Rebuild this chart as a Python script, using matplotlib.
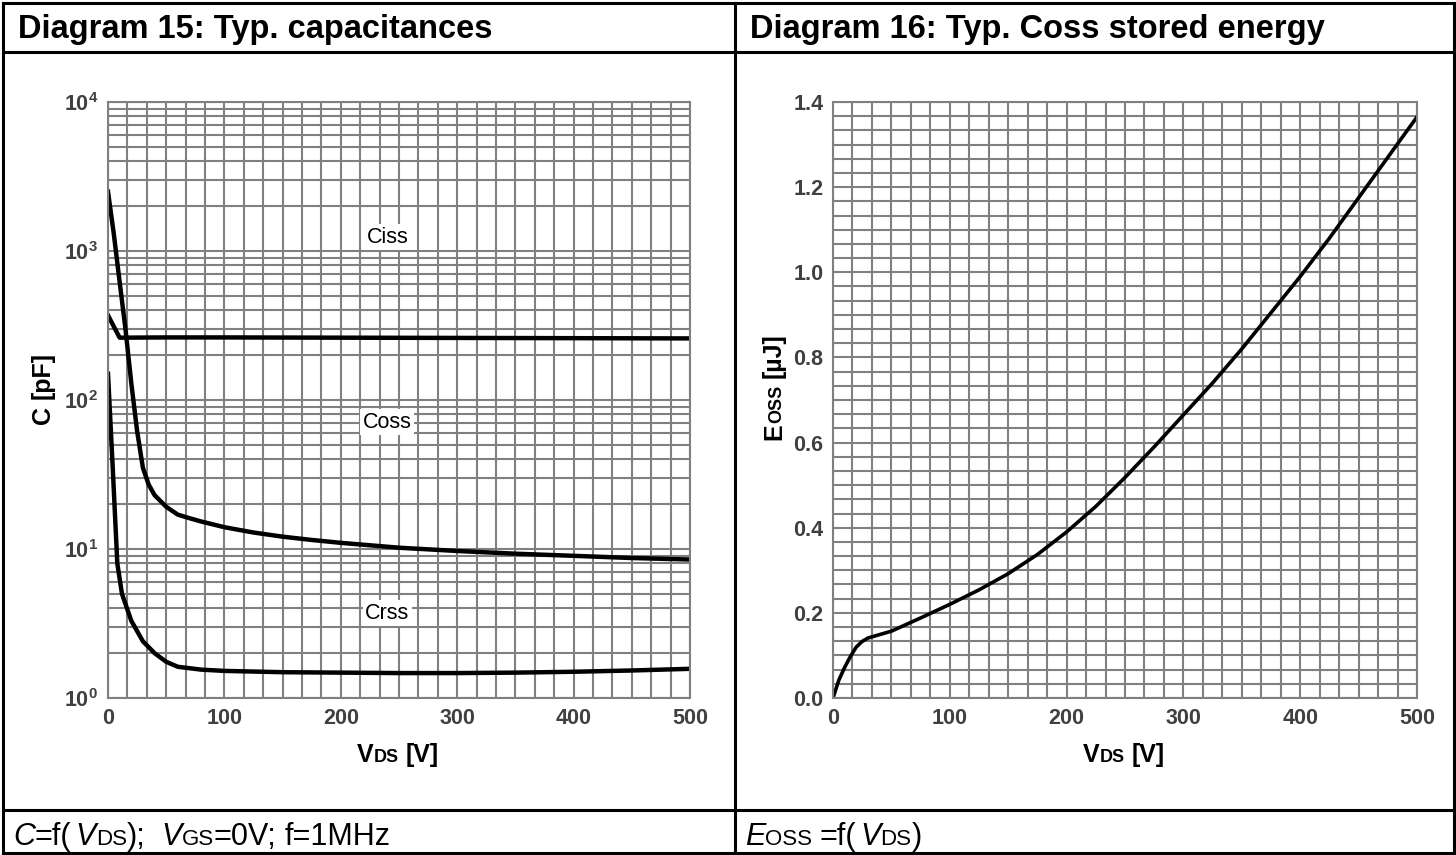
import numpy as np
import matplotlib
matplotlib.use("Agg")
import matplotlib.pyplot as plt
from matplotlib.ticker import MultipleLocator, LogLocator, NullFormatter
from matplotlib.lines import Line2D
from matplotlib.text import Annotation

# === 数据 ===
vds_coss = [0, 5, 10, 15, 20, 25, 30, 35, 40, 50, 60, 70, 80, 100, 125, 150, 175, 200, 250, 300, 350, 400, 450, 500]
coss = [2500, 1300, 620, 300, 130, 62, 35, 27, 23, 19.2, 17, 16.1, 15.3, 14, 12.9, 12.1, 11.5, 11.0, 10.2, 9.7, 9.3, 9.0, 8.7, 8.5]

vds_ciss = [0, 10, 50, 100, 200, 300, 400, 500]
ciss = [370, 262, 263, 263, 262, 261, 260, 259]

vds_crss = [0, 4, 8, 12, 20, 30, 40, 50, 60, 80, 100, 150, 200, 250, 300, 350, 400, 450, 500]
crss = [150, 36, 8, 5, 3.3, 2.4, 2.0, 1.75, 1.62, 1.55, 1.52, 1.49, 1.48, 1.47, 1.47, 1.48, 1.5, 1.53, 1.57]

vds_eoss = [0, 5, 10, 15, 20, 25, 30, 40, 50, 75, 100, 125, 150, 175, 200, 225, 250, 275, 300,
            325, 350, 375, 400, 425, 450, 475, 500]
eoss = [0, 0.042, 0.072, 0.098, 0.12, 0.133, 0.141, 0.149, 0.157, 0.188, 0.22, 0.254, 0.292, 0.337,
        0.39, 0.45, 0.518, 0.59, 0.665, 0.74, 0.82, 0.905, 0.99, 1.08, 1.175, 1.27, 1.365]

x_ticks = [0, 100, 200, 300, 400, 500]
c_ticks = [1, 10, 100, 1000, 10000]
c_tick_labels = [r'$\mathbf{10^{0}}$', r'$\mathbf{10^{1}}$', r'$\mathbf{10^{2}}$',
                 r'$\mathbf{10^{3}}$', r'$\mathbf{10^{4}}$']
e_ticks = [0.0, 0.2, 0.4, 0.6, 0.8, 1.0, 1.2, 1.4]

# === 样式 ===
FONT = 'Liberation Sans'
plt.rcParams['font.family'] = [FONT, 'DejaVu Sans']
plt.rcParams['mathtext.fontset'] = 'custom'
plt.rcParams['mathtext.rm'] = FONT
plt.rcParams['mathtext.bf'] = FONT + ':bold'
plt.rcParams['mathtext.it'] = FONT + ':italic'

GRID = '#808080'
TICK = '#404040'
W, H = 1456, 855


def fx(px):
    return px / W


def fy(py):
    return 1 - py / H


def rich_text(fig, x, y, pieces, rotation=False, color='black'):
    """把多段文字按基线拼接起来 (下标效果)"""
    prev = None
    for p in pieces:
        s, size, weight, style = p[:4]
        gap = p[4] if len(p) > 4 else 0
        kw = dict(fontsize=size, fontweight=weight, fontstyle=style, color=color,
                  family=FONT, ha='left', va='baseline')
        if rotation:
            kw.update(rotation=90, rotation_mode='anchor')
        if prev is None:
            t = fig.text(x, y, s, **kw)
        else:
            if rotation:
                t = Annotation(s, xy=(x, 1), xycoords=('figure fraction', prev),
                               xytext=(0, gap), textcoords='offset points', **kw)
            else:
                t = Annotation(s, xy=(1, y), xycoords=(prev, 'figure fraction'),
                               xytext=(gap, 0), textcoords='offset points', **kw)
            fig.add_artist(t)
        prev = t


def style_axes(ax):
    ax.set_axisbelow(True)
    ax.grid(True, which='both', color=GRID, linewidth=1.5)
    for sp in ax.spines.values():
        sp.set_color(GRID)
        sp.set_linewidth(1.5)
    ax.tick_params(which='both', length=0, labelsize=15.5, labelcolor=TICK, pad=7)
    for lab in ax.get_xticklabels() + ax.get_yticklabels():
        lab.set_fontweight('bold')


fig = plt.figure(figsize=(W / 100, H / 100), dpi=100)

# === 表格框线 ===
lw_tab = 2.2
for (x0, y0, x1, y1) in [(3, 3, 1454, 3), (3, 853, 1454, 853), (3, 3, 3, 853),
                         (1454, 3, 1454, 853), (735, 3, 735, 853),
                         (3, 52, 1454, 52), (3, 810, 1454, 810)]:
    fig.add_artist(Line2D([fx(x0), fx(x1)], [fy(y0), fy(y1)], color='black',
                          linewidth=lw_tab, transform=fig.transFigure))

fig.text(fx(18), fy(38), 'Diagram 15: Typ. capacitances', fontsize=23.5, fontweight='bold',
         ha='left', va='baseline')
fig.text(fx(750), fy(38), 'Diagram 16: Typ. Coss stored energy', fontsize=23.5, fontweight='bold',
         ha='left', va='baseline')

# === 左图: 电容 ===
ax1 = fig.add_axes([fx(108), fy(698), fx(690) - fx(108), fy(102) - fy(698)])
ax1.set_yscale('log')
ax1.plot(vds_ciss, ciss, color='black', linewidth=3.2, solid_joinstyle='round')
ax1.plot(vds_coss, coss, color='black', linewidth=3.2, solid_joinstyle='round')
ax1.plot(vds_crss, crss, color='black', linewidth=3.2, solid_joinstyle='round')
ax1.set_xlim(0, 500)
ax1.set_ylim(1, 10000)
ax1.xaxis.set_minor_locator(MultipleLocator(100 / 6))
ax1.set_xticks(x_ticks)
ax1.set_yticks(c_ticks)
ax1.set_yticklabels(c_tick_labels)
ax1.yaxis.set_minor_locator(LogLocator(base=10, subs=np.arange(2, 10)))
ax1.yaxis.set_minor_formatter(NullFormatter())
style_axes(ax1)

for name, xv, yv in [('Ciss', 240, 1240), ('Coss', 240, 71), ('Crss', 240, 3.7)]:
    ax1.text(xv, yv, name, fontsize=15.5, ha='center', va='center',
             bbox=dict(boxstyle='square,pad=0.12', fc='white', ec='none'))

# === 右图: Eoss ===
ax2 = fig.add_axes([fx(833), fy(698), fx(1417) - fx(833), fy(102) - fy(698)])
ax2.plot(vds_eoss, eoss, color='black', linewidth=2.6, solid_joinstyle='round')
ax2.set_xlim(0, 500)
ax2.set_ylim(0, 1.4)
ax2.set_xticks(x_ticks)
ax2.xaxis.set_minor_locator(MultipleLocator(100 / 6))
ax2.set_yticks(e_ticks)
ax2.set_yticklabels([f'{v:.1f}' for v in e_ticks])
ax2.yaxis.set_minor_locator(MultipleLocator(0.2 / 6))
style_axes(ax2)

# === 轴标题 ===
rich_text(fig, fx(357), fy(762), [('V', 18, 'bold', 'normal'), ('DS', 13, 'bold', 'normal'),
                                 ('[V]', 18, 'bold', 'normal', 5)])
rich_text(fig, fx(1083), fy(762), [('V', 18, 'bold', 'normal'), ('DS', 13, 'bold', 'normal'),
                                  ('[V]', 18, 'bold', 'normal', 5)])
rich_text(fig, fx(50), fy(424), [('C', 18, 'bold', 'normal'), ('[pF]', 18, 'bold', 'normal', 5)],
          rotation=True)
rich_text(fig, fx(781), fy(440), [('E', 18, 'bold', 'normal'), ('OSS', 13, 'bold', 'normal'),
                                 ('[µJ]', 18, 'bold', 'normal', 5)], rotation=True)

# === 脚注 ===
rich_text(fig, fx(13), fy(845), [('C', 22, 'normal', 'italic'), ('=f(', 22, 'normal', 'normal'),
                                 ('V', 22, 'normal', 'italic', 3), ('DS', 16, 'normal', 'normal'),
                                 (');', 22, 'normal', 'normal'), ('V', 22, 'normal', 'italic', 11),
                                 ('GS', 16, 'normal', 'normal'), ('=0V;', 22, 'normal', 'normal'),
                                 ('f=1MHz', 22, 'normal', 'normal', 6)])
rich_text(fig, fx(745), fy(845), [('E', 22, 'normal', 'italic'), ('OSS', 16, 'normal', 'normal'),
                                  ('=f(', 22, 'normal', 'normal', 5), ('V', 22, 'normal', 'italic', 3),
                                  ('DS', 16, 'normal', 'normal'), (')', 22, 'normal', 'normal')])

fig.savefig('out.png', dpi=100)
